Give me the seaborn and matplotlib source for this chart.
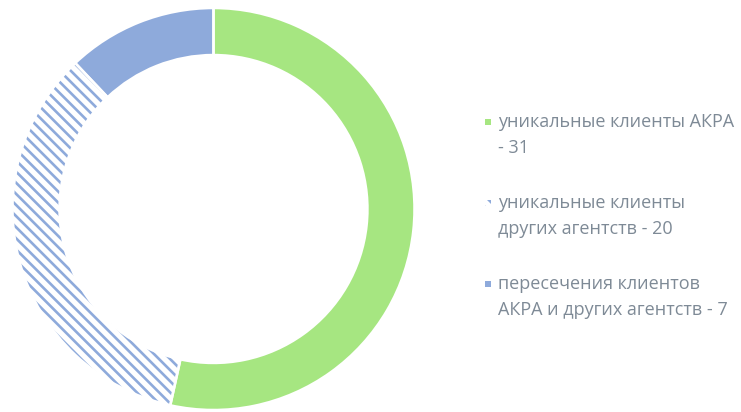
import matplotlib
matplotlib.use('Agg')
import matplotlib.pyplot as plt
import matplotlib.patches as mpatches
import seaborn as sns

labels = ['уникальные клиенты АКРА\n- 31',
          'уникальные клиенты\nдругих агентств - 20',
          'пересечения клиентов\nАКРА и других агентств - 7']
values = [31, 20, 7]
colors = ['#A6E681', '#FFFFFF', '#8EAADB']
hatches = [None, '\\\\\\', None]
HATCH_BLUE = '#8EAADB'
TEXT_GREY = '#7E8A96'

sns.set_theme(style='white')
plt.rcParams['font.family'] = ['Open Sans', 'DejaVu Sans']
plt.rcParams['hatch.linewidth'] = 1.9

fig = plt.figure(figsize=(7.41, 4.12), dpi=100)
ax = fig.add_axes([12.5 / 741, 2 / 412, 402 / 741, 402 / 412])

# hatched fill first (hatch takes the edge colour), then white separators on top
wedges, _ = ax.pie(values, colors=colors, startangle=90, counterclock=False,
                   radius=1, wedgeprops=dict(width=0.234, linewidth=0, edgecolor=HATCH_BLUE))
for w, h in zip(wedges, hatches):
    if h:
        w.set_hatch(h)
ax.pie(values, colors=['none'] * 3, startangle=90, counterclock=False,
       radius=1, wedgeprops=dict(width=0.234, linewidth=1.8, edgecolor='white', fill=False))
ax.set_xlim(-1, 1)
ax.set_ylim(-1, 1)
ax.set_aspect('equal')
ax.axis('off')

# legend at right, marker aligned with the first text line
W, H = 741, 412
y0, step = 122, 81
for i, lab in enumerate(labels):
    y = y0 + i * step
    sq = mpatches.Rectangle(((488 - 3) / W, 1 - (y + 3) / H), 6 / W, 6 / H,
                            transform=fig.transFigure, facecolor=colors[i] if i != 1 else 'white',
                            edgecolor='none', hatch=hatches[i])
    if i == 1:
        sq.set_edgecolor(HATCH_BLUE)
        sq.set_linewidth(0)
    fig.patches.append(sq)
    fig.text(498 / W, 1 - (y - 9) / H, lab, ha='left', va='top', fontsize=13,
             color=TEXT_GREY, linespacing=1.55)

fig.savefig('out.png', dpi=100)
